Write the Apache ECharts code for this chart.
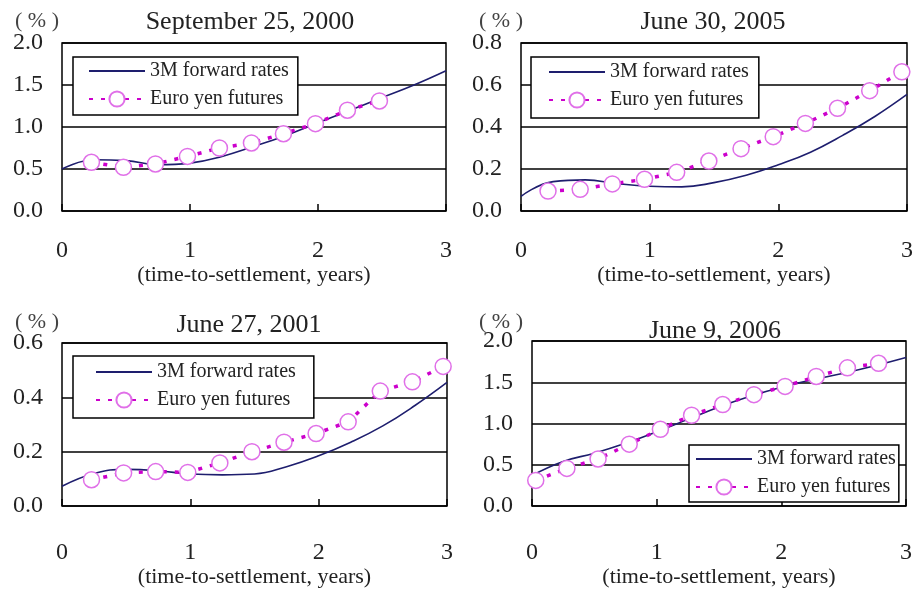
<!DOCTYPE html>
<html>
<head>
<meta charset="utf-8">
<script src="https://cdn.jsdelivr.net/npm/echarts@6/dist/echarts.min.js"></script>
<style>
html,body{margin:0;padding:0;background:#fff;}
#c{width:916px;height:589px;}
</style>
</head>
<body>
<div id="c"></div>
<script>
// ---------- data ----------
var panelTitles = ['September 25, 2000', 'June 30, 2005', 'June 27, 2001', 'June 9, 2006'];
var seriesNames = ['3M forward rates', 'Euro yen futures'];
var xTickLabels = ['0', '1', '2', '3'];
var xAxisName = '(time-to-settlement, years)';
var yUnit = '( % )';

// forward-curve horizon (years)
var fwdX = [0, 0.25, 0.5, 0.75, 1.0, 1.25, 1.5, 1.75, 2.0, 2.25, 2.5, 2.75, 3.0];

// September 25, 2000
var fwd2000 = [0.50, 0.61, 0.60, 0.55, 0.57, 0.65, 0.77, 0.90, 1.05, 1.20, 1.35, 1.50, 1.67];
var futX2000 = [0.23, 0.48, 0.73, 0.98, 1.23, 1.48, 1.73, 1.98, 2.23, 2.48];
var futY2000 = [0.58, 0.52, 0.56, 0.65, 0.75, 0.81, 0.92, 1.04, 1.20, 1.31];

// June 30, 2005
var fwd2005 = [0.07, 0.14, 0.148, 0.13, 0.118, 0.115, 0.135, 0.17, 0.22, 0.28, 0.36, 0.45, 0.555];
var futX2005 = [0.21, 0.46, 0.71, 0.96, 1.21, 1.46, 1.71, 1.96, 2.21, 2.46, 2.71, 2.96];
var futY2005 = [0.095, 0.103, 0.129, 0.151, 0.184, 0.238, 0.297, 0.354, 0.417, 0.489, 0.573, 0.663];

// June 27, 2001
var fwd2001 = [0.073, 0.12, 0.135, 0.13, 0.118, 0.115, 0.118, 0.145, 0.185, 0.235, 0.295, 0.37, 0.455];
var futX2001 = [0.23, 0.48, 0.73, 0.98, 1.23, 1.48, 1.73, 1.98, 2.23, 2.48, 2.73, 2.97];
var futY2001 = [0.097, 0.122, 0.127, 0.124, 0.159, 0.20, 0.235, 0.267, 0.31, 0.423, 0.457, 0.514];

// June 9, 2006
var fwd2006 = [0.37, 0.54, 0.64, 0.76, 0.90, 1.05, 1.20, 1.33, 1.44, 1.53, 1.61, 1.70, 1.80];
var futX2006 = [0.03, 0.28, 0.53, 0.78, 1.03, 1.28, 1.53, 1.78, 2.03, 2.28, 2.53, 2.78];
var futY2006 = [0.31, 0.456, 0.57, 0.75, 0.93, 1.10, 1.23, 1.35, 1.45, 1.57, 1.675, 1.73];

var yMax = [2.0, 0.8, 0.6, 2.0];
var yStep = [0.5, 0.2, 0.2, 0.5];

// ---------- layout / style ----------
var FONT = '"Liberation Serif", "Times New Roman", serif';
var grids = [
  {left: 62, top: 43, width: 384, height: 168},
  {left: 521, top: 43, width: 388, height: 168},
  {left: 62, top: 343, width: 385, height: 176},
  {left: 532, top: 341, width: 374, height: 168}
];
var xLabelMargin = [28, 28, 35, 35];
var xNameGap = [52, 52, 45, 60];
var titlePos = [[250, 22], [713, 22], [249, 325], [715, 331]];
var unitPos = [[37, 21], [501, 21], [37, 322], [501, 322]];
var legendPos = [
  {left: 73, top: 57, padding: [4, 9, 6, 15]},
  {left: 531, top: 57, padding: [5, 10, 8, 17]},
  {left: 73, top: 356, padding: [6, 18, 8, 22]},
  {left: 689, top: 445, padding: [4, 3, 5, 6]}
];

function pairs(xs, ys) { return xs.map(function (x, i) { return [x, ys[i]]; }); }
var fwdData = [fwd2000, fwd2005, fwd2001, fwd2006];
var futData = [pairs(futX2000, futY2000), pairs(futX2005, futY2005), pairs(futX2001, futY2001), pairs(futX2006, futY2006)];

var option = {
  animation: false,
  backgroundColor: '#fff',
  grid: [], xAxis: [], yAxis: [], series: [], legend: [], graphic: []
};

for (var i = 0; i < 4; i++) {
  var g = grids[i];
  option.grid.push({
    left: g.left, top: g.top, width: g.width, height: g.height,
    show: true, borderColor: '#000', borderWidth: 1.5, backgroundColor: 'transparent'
  });
  option.xAxis.push({
    type: 'value', gridIndex: i, min: 0, max: 3, interval: 1,
    axisLine: {show: false},
    axisTick: {show: true, inside: true, length: 7, lineStyle: {color: '#000', width: 1.5}},
    splitLine: {show: false},
    axisLabel: {
      margin: xLabelMargin[i], fontSize: 24, fontFamily: FONT, color: '#222',
      formatter: function (v) { return xTickLabels[Math.round(v)]; }
    },
    name: xAxisName, nameLocation: 'middle', nameGap: xNameGap[i],
    nameTextStyle: {fontSize: 22, fontFamily: FONT, color: '#222'}
  });
  option.yAxis.push({
    type: 'value', gridIndex: i, min: 0, max: yMax[i], interval: yStep[i],
    axisLine: {show: false}, axisTick: {show: false},
    splitLine: {show: true, lineStyle: {color: '#000', width: 1.5}},
    axisLabel: {
      margin: 19, fontSize: 24, fontFamily: FONT, color: '#222',
      formatter: function (v) { return v.toFixed(1); }
    }
  });
  option.series.push({
    name: seriesNames[0], type: 'line', xAxisIndex: i, yAxisIndex: i,
    data: pairs(fwdX, fwdData[i]), smooth: 0.45, showSymbol: false, symbol: 'none',
    lineStyle: {color: '#1e1e6e', width: 1.6}, itemStyle: {color: '#1e1e6e'}, z: 3
  });
  option.series.push({
    name: seriesNames[1], type: 'line', xAxisIndex: i, yAxisIndex: i,
    data: futData[i], symbol: 'circle', symbolSize: 16,
    lineStyle: {color: '#cc00cc', width: 3.5, type: [4, 8]},
    itemStyle: {color: '#fff', borderColor: '#e070e8', borderWidth: 1.5}, z: 4
  });
  var lp = legendPos[i];
  option.legend.push({
    data: [
      {name: seriesNames[0], itemStyle: {opacity: 0, color: 'transparent', borderColor: 'transparent'}},
      {name: seriesNames[1]}
    ],
    orient: 'vertical', left: lp.left, top: lp.top, padding: lp.padding,
    backgroundColor: '#fff', borderColor: '#000', borderWidth: 1.5,
    itemWidth: 56, itemHeight: 19, itemGap: 8, selectedMode: false,
    textStyle: {fontSize: 20, fontFamily: FONT, color: '#222', lineHeight: 20},
    z: 10
  });
  option.graphic.push({
    type: 'text', x: titlePos[i][0], y: titlePos[i][1], z: 10,
    style: {text: panelTitles[i], font: '26px ' + FONT, fill: '#222', align: 'center', verticalAlign: 'middle'}
  });
  option.graphic.push({
    type: 'text', x: unitPos[i][0], y: unitPos[i][1], z: 10,
    style: {text: yUnit, font: '22px ' + FONT, fill: '#444', align: 'center', verticalAlign: 'middle'}
  });
}

var chart = echarts.init(document.getElementById('c'), null, {renderer: 'canvas'});
chart.setOption(option);
</script>
</body>
</html>
